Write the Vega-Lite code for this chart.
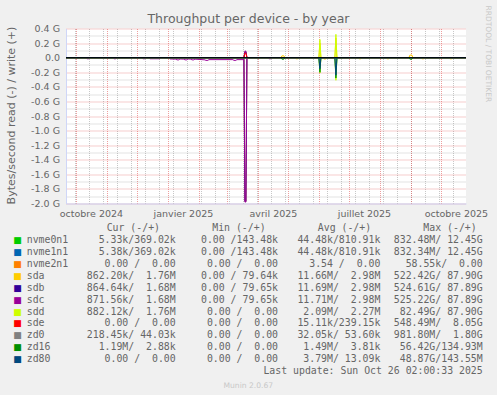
{
  "$schema": "https://vega.github.io/schema/vega-lite/v6.json",
  "autosize": "none",
  "padding": {"left": 66, "top": 28.5, "right": 31, "bottom": 191.5},
  "width": 400,
  "height": 175,
  "background": "#f0f0f0",
  "config": {"view": {"stroke": null, "fill": "white"}},
  "layer": [
    {
      "data": {
        "format": {"parse": {"t": "date:'%Y-%m-%d'"}},
        "values": [
          {"dev":"nvme0n1","dir":"r","t":"2024-09-21","v":0},{"dev":"nvme0n1","dir":"r","t":"2025-10-26","v":0},
          {"dev":"nvme0n1","dir":"w","t":"2024-09-21","v":0},{"dev":"nvme0n1","dir":"w","t":"2025-10-26","v":0},
          {"dev":"nvme1n1","dir":"r","t":"2024-09-21","v":0},{"dev":"nvme1n1","dir":"r","t":"2025-10-26","v":0},
          {"dev":"nvme1n1","dir":"w","t":"2024-09-21","v":0},{"dev":"nvme1n1","dir":"w","t":"2025-10-26","v":0},
          {"dev":"nvme2n1","dir":"r","t":"2024-09-21","v":0},{"dev":"nvme2n1","dir":"r","t":"2025-10-26","v":0},
          {"dev":"nvme2n1","dir":"w","t":"2024-09-21","v":0},{"dev":"nvme2n1","dir":"w","t":"2025-10-26","v":0},
          {"dev":"sda","dir":"r","t":"2024-09-21","v":0},{"dev":"sda","dir":"r","t":"2025-03-18","v":0},{"dev":"sda","dir":"r","t":"2025-03-19","v":-1.97},{"dev":"sda","dir":"r","t":"2025-03-20","v":-1.97},{"dev":"sda","dir":"r","t":"2025-03-21","v":0},
          {"dev":"sda","dir":"r","t":"2025-05-08","v":0},{"dev":"sda","dir":"r","t":"2025-05-09","v":-0.015},{"dev":"sda","dir":"r","t":"2025-05-11","v":-0.015},{"dev":"sda","dir":"r","t":"2025-05-12","v":0},
          {"dev":"sda","dir":"r","t":"2025-06-05","v":0},{"dev":"sda","dir":"r","t":"2025-06-06","v":-0.018},{"dev":"sda","dir":"r","t":"2025-06-08","v":-0.018},{"dev":"sda","dir":"r","t":"2025-06-09","v":0},
          {"dev":"sda","dir":"r","t":"2025-07-10","v":0},{"dev":"sda","dir":"r","t":"2025-07-11","v":-0.015},{"dev":"sda","dir":"r","t":"2025-07-13","v":-0.015},{"dev":"sda","dir":"r","t":"2025-07-14","v":0},
          {"dev":"sda","dir":"r","t":"2025-08-07","v":0},{"dev":"sda","dir":"r","t":"2025-08-08","v":-0.015},{"dev":"sda","dir":"r","t":"2025-08-10","v":-0.015},{"dev":"sda","dir":"r","t":"2025-08-11","v":0},
          {"dev":"sda","dir":"r","t":"2025-09-11","v":0},{"dev":"sda","dir":"r","t":"2025-09-12","v":-0.015},{"dev":"sda","dir":"r","t":"2025-09-14","v":-0.015},{"dev":"sda","dir":"r","t":"2025-09-15","v":0},
          {"dev":"sda","dir":"r","t":"2025-10-09","v":0},{"dev":"sda","dir":"r","t":"2025-10-10","v":-0.015},{"dev":"sda","dir":"r","t":"2025-10-12","v":-0.015},{"dev":"sda","dir":"r","t":"2025-10-13","v":0},
          {"dev":"sda","dir":"r","t":"2025-10-26","v":0},
          {"dev":"sda","dir":"w","t":"2024-09-21","v":0},{"dev":"sda","dir":"w","t":"2025-03-18","v":0},{"dev":"sda","dir":"w","t":"2025-03-19","v":0.08},{"dev":"sda","dir":"w","t":"2025-03-20","v":0.08},{"dev":"sda","dir":"w","t":"2025-03-21","v":0},
          {"dev":"sda","dir":"w","t":"2025-04-24","v":0},{"dev":"sda","dir":"w","t":"2025-04-25","v":0.025},{"dev":"sda","dir":"w","t":"2025-04-27","v":0.025},{"dev":"sda","dir":"w","t":"2025-04-28","v":0},
          {"dev":"sda","dir":"w","t":"2025-06-01","v":0},{"dev":"sda","dir":"w","t":"2025-06-02","v":0.2},{"dev":"sda","dir":"w","t":"2025-06-03","v":0},
          {"dev":"sda","dir":"w","t":"2025-06-17","v":0},{"dev":"sda","dir":"w","t":"2025-06-18","v":0.27},{"dev":"sda","dir":"w","t":"2025-06-19","v":0},
          {"dev":"sda","dir":"w","t":"2025-08-30","v":0},{"dev":"sda","dir":"w","t":"2025-08-31","v":0.035},{"dev":"sda","dir":"w","t":"2025-09-02","v":0.035},{"dev":"sda","dir":"w","t":"2025-09-03","v":0},
          {"dev":"sda","dir":"w","t":"2025-10-26","v":0},
          {"dev":"sdb","dir":"r","t":"2024-09-21","v":0},{"dev":"sdb","dir":"r","t":"2025-03-18","v":0},{"dev":"sdb","dir":"r","t":"2025-03-19","v":-1.97},{"dev":"sdb","dir":"r","t":"2025-03-20","v":-1.97},{"dev":"sdb","dir":"r","t":"2025-03-21","v":0},{"dev":"sdb","dir":"r","t":"2025-10-26","v":0},
          {"dev":"sdb","dir":"w","t":"2024-09-21","v":0},{"dev":"sdb","dir":"w","t":"2025-03-18","v":0},{"dev":"sdb","dir":"w","t":"2025-03-19","v":0.08},{"dev":"sdb","dir":"w","t":"2025-03-20","v":0.08},{"dev":"sdb","dir":"w","t":"2025-03-21","v":0},{"dev":"sdb","dir":"w","t":"2025-10-26","v":0},
          {"dev":"sdc","dir":"r","t":"2024-09-21","v":0},
          {"dev":"sdc","dir":"r","t":"2024-10-11","v":0},{"dev":"sdc","dir":"r","t":"2024-10-12","v":-0.015},{"dev":"sdc","dir":"r","t":"2024-10-14","v":-0.015},{"dev":"sdc","dir":"r","t":"2024-10-15","v":0},
          {"dev":"sdc","dir":"r","t":"2024-11-07","v":0},{"dev":"sdc","dir":"r","t":"2024-11-08","v":-0.015},{"dev":"sdc","dir":"r","t":"2024-11-10","v":-0.015},{"dev":"sdc","dir":"r","t":"2024-11-11","v":0},
          {"dev":"sdc","dir":"r","t":"2024-12-06","v":0},{"dev":"sdc","dir":"r","t":"2024-12-07","v":-0.015},{"dev":"sdc","dir":"r","t":"2024-12-09","v":-0.015},{"dev":"sdc","dir":"r","t":"2024-12-10","v":0},
          {"dev":"sdc","dir":"r","t":"2024-12-13","v":0},{"dev":"sdc","dir":"r","t":"2024-12-14","v":-0.015},{"dev":"sdc","dir":"r","t":"2024-12-24","v":-0.015},{"dev":"sdc","dir":"r","t":"2024-12-25","v":0},
          {"dev":"sdc","dir":"r","t":"2025-01-02","v":0},{"dev":"sdc","dir":"r","t":"2025-01-03","v":-0.018},{"dev":"sdc","dir":"r","t":"2025-01-09","v":-0.02},{"dev":"sdc","dir":"r","t":"2025-01-10","v":-0.03},{"dev":"sdc","dir":"r","t":"2025-01-12","v":-0.03},{"dev":"sdc","dir":"r","t":"2025-01-13","v":-0.018},
          {"dev":"sdc","dir":"r","t":"2025-01-17","v":-0.02},{"dev":"sdc","dir":"r","t":"2025-01-18","v":-0.03},{"dev":"sdc","dir":"r","t":"2025-01-20","v":-0.03},{"dev":"sdc","dir":"r","t":"2025-01-21","v":-0.018},
          {"dev":"sdc","dir":"r","t":"2025-01-24","v":-0.02},{"dev":"sdc","dir":"r","t":"2025-01-25","v":-0.03},{"dev":"sdc","dir":"r","t":"2025-01-27","v":-0.03},{"dev":"sdc","dir":"r","t":"2025-01-28","v":-0.02},
          {"dev":"sdc","dir":"r","t":"2025-02-02","v":-0.025},{"dev":"sdc","dir":"r","t":"2025-02-07","v":-0.03},{"dev":"sdc","dir":"r","t":"2025-02-08","v":-0.037},{"dev":"sdc","dir":"r","t":"2025-02-10","v":-0.037},{"dev":"sdc","dir":"r","t":"2025-02-11","v":-0.027},
          {"dev":"sdc","dir":"r","t":"2025-03-07","v":-0.027},{"dev":"sdc","dir":"r","t":"2025-03-08","v":-0.037},{"dev":"sdc","dir":"r","t":"2025-03-10","v":-0.037},{"dev":"sdc","dir":"r","t":"2025-03-11","v":-0.027},
          {"dev":"sdc","dir":"r","t":"2025-03-18","v":-0.027},{"dev":"sdc","dir":"r","t":"2025-03-19","v":-1.98},{"dev":"sdc","dir":"r","t":"2025-03-20","v":-1.98},{"dev":"sdc","dir":"r","t":"2025-03-21","v":0},
          {"dev":"sdc","dir":"r","t":"2025-04-11","v":0},{"dev":"sdc","dir":"r","t":"2025-04-12","v":-0.015},{"dev":"sdc","dir":"r","t":"2025-04-14","v":-0.015},{"dev":"sdc","dir":"r","t":"2025-04-15","v":0},
          {"dev":"sdc","dir":"r","t":"2025-10-26","v":0},
          {"dev":"sdc","dir":"w","t":"2024-09-21","v":0},{"dev":"sdc","dir":"w","t":"2025-03-18","v":0},{"dev":"sdc","dir":"w","t":"2025-03-19","v":0.09},{"dev":"sdc","dir":"w","t":"2025-03-20","v":0.09},{"dev":"sdc","dir":"w","t":"2025-03-21","v":0},{"dev":"sdc","dir":"w","t":"2025-10-26","v":0},
          {"dev":"sdd","dir":"r","t":"2024-09-21","v":0},{"dev":"sdd","dir":"r","t":"2025-06-01","v":0},{"dev":"sdd","dir":"r","t":"2025-06-02","v":-0.21},{"dev":"sdd","dir":"r","t":"2025-06-03","v":0},
          {"dev":"sdd","dir":"r","t":"2025-06-17","v":0},{"dev":"sdd","dir":"r","t":"2025-06-18","v":-0.31},{"dev":"sdd","dir":"r","t":"2025-06-19","v":0},{"dev":"sdd","dir":"r","t":"2025-10-26","v":0},
          {"dev":"sdd","dir":"w","t":"2024-09-21","v":0},{"dev":"sdd","dir":"w","t":"2025-06-01","v":0},{"dev":"sdd","dir":"w","t":"2025-06-02","v":0.25},{"dev":"sdd","dir":"w","t":"2025-06-03","v":0},
          {"dev":"sdd","dir":"w","t":"2025-06-17","v":0},{"dev":"sdd","dir":"w","t":"2025-06-18","v":0.32},{"dev":"sdd","dir":"w","t":"2025-06-19","v":0},{"dev":"sdd","dir":"w","t":"2025-10-26","v":0},
          {"dev":"sde","dir":"r","t":"2024-09-21","v":0},{"dev":"sde","dir":"r","t":"2025-10-26","v":0},
          {"dev":"sde","dir":"w","t":"2024-09-21","v":0},{"dev":"sde","dir":"w","t":"2025-03-18","v":0},{"dev":"sde","dir":"w","t":"2025-03-19","v":0.06},{"dev":"sde","dir":"w","t":"2025-03-20","v":0.06},{"dev":"sde","dir":"w","t":"2025-03-21","v":0},{"dev":"sde","dir":"w","t":"2025-10-26","v":0},
          {"dev":"zd0","dir":"r","t":"2024-09-21","v":0},{"dev":"zd0","dir":"r","t":"2025-10-26","v":0},
          {"dev":"zd0","dir":"w","t":"2024-09-21","v":0},{"dev":"zd0","dir":"w","t":"2025-10-26","v":0},
          {"dev":"zd16","dir":"r","t":"2024-09-21","v":0},{"dev":"zd16","dir":"r","t":"2025-04-24","v":0},{"dev":"zd16","dir":"r","t":"2025-04-25","v":-0.02},{"dev":"zd16","dir":"r","t":"2025-04-27","v":-0.02},{"dev":"zd16","dir":"r","t":"2025-04-28","v":0},
          {"dev":"zd16","dir":"r","t":"2025-06-01","v":0},{"dev":"zd16","dir":"r","t":"2025-06-02","v":-0.2},{"dev":"zd16","dir":"r","t":"2025-06-03","v":0},
          {"dev":"zd16","dir":"r","t":"2025-06-17","v":0},{"dev":"zd16","dir":"r","t":"2025-06-18","v":-0.28},{"dev":"zd16","dir":"r","t":"2025-06-19","v":0},
          {"dev":"zd16","dir":"r","t":"2025-08-30","v":0},{"dev":"zd16","dir":"r","t":"2025-08-31","v":-0.02},{"dev":"zd16","dir":"r","t":"2025-09-02","v":-0.02},{"dev":"zd16","dir":"r","t":"2025-09-03","v":0},{"dev":"zd16","dir":"r","t":"2025-10-26","v":0},
          {"dev":"zd16","dir":"w","t":"2024-09-21","v":0},{"dev":"zd16","dir":"w","t":"2025-10-26","v":0},
          {"dev":"zd80","dir":"r","t":"2024-09-21","v":0},{"dev":"zd80","dir":"r","t":"2025-06-01","v":0},{"dev":"zd80","dir":"r","t":"2025-06-02","v":-0.15},{"dev":"zd80","dir":"r","t":"2025-06-03","v":0},
          {"dev":"zd80","dir":"r","t":"2025-06-17","v":0},{"dev":"zd80","dir":"r","t":"2025-06-18","v":-0.24},{"dev":"zd80","dir":"r","t":"2025-06-19","v":0},{"dev":"zd80","dir":"r","t":"2025-10-26","v":0},
          {"dev":"zd80","dir":"w","t":"2024-09-21","v":0},{"dev":"zd80","dir":"w","t":"2025-10-26","v":0}
        ]
      },
      "layer": [
        {
          "mark": {"type": "point", "opacity": 0},
          "encoding": {
            "x": {"field": "t", "type": "temporal",
              "scale": {"domain": [{"year":2024,"month":9,"date":21,"hours":2},{"year":2025,"month":10,"date":26,"hours":2}], "nice": false},
              "axis": {"orient": "bottom", "title": null, "labels": false, "ticks": false, "domain": false, "grid": true,
                "gridColor": "#8f8f8f", "gridOpacity": 0.5, "gridDash": [1, 1],
                "values": [
                  {"year":2024,"month":9,"date":30},{"year":2024,"month":10,"date":14},{"year":2024,"month":10,"date":28},
                  {"year":2024,"month":11,"date":11},{"year":2024,"month":11,"date":25},{"year":2024,"month":12,"date":9},
                  {"year":2024,"month":12,"date":23},{"year":2025,"month":1,"date":6},{"year":2025,"month":1,"date":20},
                  {"year":2025,"month":2,"date":3},{"year":2025,"month":2,"date":17},{"year":2025,"month":3,"date":3},
                  {"year":2025,"month":3,"date":17},{"year":2025,"month":3,"date":31},{"year":2025,"month":4,"date":14},
                  {"year":2025,"month":4,"date":28},{"year":2025,"month":5,"date":12},{"year":2025,"month":5,"date":26},
                  {"year":2025,"month":6,"date":9},{"year":2025,"month":6,"date":23},{"year":2025,"month":7,"date":7},
                  {"year":2025,"month":7,"date":21},{"year":2025,"month":8,"date":4},{"year":2025,"month":8,"date":18},
                  {"year":2025,"month":9,"date":1},{"year":2025,"month":9,"date":15},{"year":2025,"month":9,"date":29},
                  {"year":2025,"month":10,"date":13}
                ]}},
            "y": {"field": "v", "type": "quantitative",
              "scale": {"domain": [-2.0, 0.4], "nice": false, "zero": false},
              "axis": {"orient": "left", "title": null, "labels": false, "ticks": false, "domain": false, "grid": true,
                "gridColor": "#8f8f8f", "gridOpacity": 0.5, "gridDash": [1, 1],
                "values": [-1.9, -1.7, -1.5, -1.3, -1.1, -0.9, -0.7, -0.5, -0.3, -0.1, 0.1, 0.3]}}
          }
        },
        {
          "mark": {"type": "point", "opacity": 0},
          "encoding": {
            "x": {"field": "t", "type": "temporal",
              "scale": {"domain": [{"year":2024,"month":9,"date":21,"hours":2},{"year":2025,"month":10,"date":26,"hours":2}], "nice": false},
              "axis": {"orient": "top", "labels": false, "ticks": false, "domain": false, "grid": true,
                "gridColor": "#e04f4f", "gridOpacity": 0.55, "gridDash": [1, 1],
                "values": [
                  {"year":2024,"month":10,"date":1},{"year":2024,"month":11,"date":1},{"year":2024,"month":12,"date":1},
                  {"year":2025,"month":1,"date":1},{"year":2025,"month":2,"date":1},{"year":2025,"month":3,"date":1},
                  {"year":2025,"month":4,"date":1},{"year":2025,"month":5,"date":1},{"year":2025,"month":6,"date":1},
                  {"year":2025,"month":7,"date":1},{"year":2025,"month":8,"date":1},{"year":2025,"month":9,"date":1},
                  {"year":2025,"month":10,"date":1}
                ],
                "title": "Throughput per device - by year",
                "titleX": 182, "titleY": -6.1, "titleAlign": "center", "titleBaseline": "alphabetic", "titleAngle": 0,
                "titleFont": "DejaVu Sans", "titleFontSize": 12.5, "titleFontWeight": "normal", "titleColor": "#666666"}},
            "y": {"field": "v", "type": "quantitative",
              "scale": {"domain": [-2.0, 0.4], "nice": false, "zero": false},
              "axis": {"orient": "left", "ticks": false, "domain": true, "domainColor": "#cfd6f8", "grid": true,
                "gridColor": "#e04f4f", "gridOpacity": 0.55, "gridDash": [1, 1],
                "values": [-2.0, -1.8, -1.6, -1.4, -1.2, -1.0, -0.8, -0.6, -0.4, -0.2, 0, 0.2, 0.4],
                "labelExpr": "abs(datum.value) < 1e-9 ? '0.0\u2002' : (datum.value < 0 ? '-' : '') + format(abs(datum.value), '.1f') + ' G'",
                "labelFont": "DejaVu Sans", "labelFontSize": 9.5, "labelColor": "#666666", "labelPadding": 6.5,
                "labelBaseline": "middle", "labelFlush": false, "labelOverlap": false,
                "title": "Bytes/second read (-) / write (+)",
                "titleX": -51.3, "titleY": 86.5, "titleAngle": -90, "titleAlign": "center", "titleBaseline": "alphabetic",
                "titleFont": "DejaVu Sans", "titleFontSize": 11, "titleFontWeight": "normal", "titleColor": "#666666"}}
          }
        },
        {
          "mark": {"type": "point", "opacity": 0},
          "encoding": {
            "x": {"field": "t", "type": "temporal",
              "scale": {"domain": [{"year":2024,"month":9,"date":21,"hours":2},{"year":2025,"month":10,"date":26,"hours":2}], "nice": false},
              "axis": {"orient": "bottom", "grid": false, "ticks": false, "tickSize": 0, "domain": true, "domainColor": "#cfd6f8",
                "values": [
                  {"year":2024,"month":10,"date":16},{"year":2025,"month":1,"date":16},{"year":2025,"month":4,"date":16},
                  {"year":2025,"month":7,"date":16},{"year":2025,"month":10,"date":16}
                ],
                "labelExpr": "['janvier','février','mars','avril','mai','juin','juillet','août','septembre','octobre','novembre','décembre'][month(datum.value)] + ' ' + year(datum.value)",
                "labelFont": "DejaVu Sans", "labelFontSize": 9.5, "labelColor": "#666666", "labelPadding": 12.5,
                "labelBaseline": "alphabetic", "labelAlign": "center", "labelFlush": false, "labelOverlap": false, "labelBound": false,
                "title": "Munin 2.0.67",
                "titleX": 181.8, "titleY": 183.5, "titleAlign": "center", "titleBaseline": "alphabetic",
                "titleFont": "DejaVu Sans", "titleFontSize": 7.6, "titleFontWeight": "normal", "titleColor": "#c8c8c8"}},
            "y": {"field": "v", "type": "quantitative",
              "scale": {"domain": [-2.0, 0.4], "nice": false, "zero": false},
              "axis": {"orient": "right", "grid": false, "labels": false, "ticks": false, "domain": false,
                "title": "RRDTOOL / TOBI OETIKER",
                "titleX": 19.5, "titleY": 24.8, "titleAngle": 90, "titleAlign": "center", "titleBaseline": "alphabetic",
                "titleFont": "DejaVu Sans", "titleFontSize": 7.5, "titleFontWeight": "normal", "titleColor": "#c8c8c8"}}
          }
        },
        {
          "mark": {"type": "line", "strokeWidth": 1, "clip": true},
          "encoding": {
            "x": {"field": "t", "type": "temporal",
              "scale": {"domain": [{"year":2024,"month":9,"date":21,"hours":2},{"year":2025,"month":10,"date":26,"hours":2}], "nice": false},
              "axis": null},
            "y": {"field": "v", "type": "quantitative",
              "scale": {"domain": [-2.0, 0.4], "nice": false, "zero": false}, "axis": null},
            "color": {"field": "dev", "type": "nominal", "legend": null,
              "scale": {"domain": ["nvme0n1","nvme1n1","nvme2n1","sda","sdb","sdc","sdd","sde","zd0","zd16","zd80"],
                        "range": ["#00cc00","#0066b3","#ff8000","#ffcc00","#330099","#990099","#ccff00","#ff0000","#808080","#008f00","#00487d"]}},
            "detail": {"field": "dir", "type": "nominal"}
          }
        },
        {
          "data": {"values": [{"z": 0}]},
          "mark": {"type": "rule", "color": "#000000", "strokeWidth": 1},
          "encoding": {
            "y": {"field": "z", "type": "quantitative",
              "scale": {"domain": [-2.0, 0.4], "nice": false, "zero": false}, "axis": null}
          }
        }
      ],
      "resolve": {"axis": {"x": "independent", "y": "independent"}}
    },
    {
      "data": {"values": [
        {"dev":"nvme0n1","cur":"\u00a0\u00a05.33k/369.02k","min":"\u00a0\u00a00.00\u00a0/143.48k","avg":"\u00a044.48k/810.91k","max":"832.48M/\u00a012.45G"},
        {"dev":"nvme1n1","cur":"\u00a0\u00a05.38k/369.02k","min":"\u00a0\u00a00.00\u00a0/143.48k","avg":"\u00a044.48k/810.91k","max":"832.34M/\u00a012.45G"},
        {"dev":"nvme2n1","cur":"\u00a0\u00a00.00\u00a0/\u00a0\u00a00.00\u00a0","min":"\u00a0\u00a00.00\u00a0/\u00a0\u00a00.00\u00a0","avg":"\u00a0\u00a03.54\u00a0/\u00a0\u00a00.00\u00a0","max":"\u00a058.55k/\u00a0\u00a00.00\u00a0"},
        {"dev":"sda","cur":"862.20k/\u00a0\u00a01.76M","min":"\u00a0\u00a00.00\u00a0/\u00a079.64k","avg":"\u00a011.66M/\u00a0\u00a02.98M","max":"522.42G/\u00a087.90G"},
        {"dev":"sdb","cur":"864.64k/\u00a0\u00a01.68M","min":"\u00a0\u00a00.00\u00a0/\u00a079.65k","avg":"\u00a011.69M/\u00a0\u00a02.98M","max":"524.61G/\u00a087.89G"},
        {"dev":"sdc","cur":"871.56k/\u00a0\u00a01.68M","min":"\u00a0\u00a00.00\u00a0/\u00a079.65k","avg":"\u00a011.71M/\u00a0\u00a02.98M","max":"525.22G/\u00a087.89G"},
        {"dev":"sdd","cur":"882.12k/\u00a0\u00a01.76M","min":"\u00a0\u00a00.00\u00a0/\u00a0\u00a00.00\u00a0","avg":"\u00a0\u00a02.09M/\u00a0\u00a02.27M","max":"\u00a082.49G/\u00a087.90G"},
        {"dev":"sde","cur":"\u00a0\u00a00.00\u00a0/\u00a0\u00a00.00\u00a0","min":"\u00a0\u00a00.00\u00a0/\u00a0\u00a00.00\u00a0","avg":"\u00a015.11k/239.15k","max":"548.49M/\u00a0\u00a08.05G"},
        {"dev":"zd0","cur":"218.45k/\u00a044.03k","min":"\u00a0\u00a00.00\u00a0/\u00a0\u00a00.00\u00a0","avg":"\u00a032.05k/\u00a053.60k","max":"981.80M/\u00a0\u00a01.80G"},
        {"dev":"zd16","cur":"\u00a0\u00a01.19M/\u00a0\u00a02.88k","min":"\u00a0\u00a00.00\u00a0/\u00a0\u00a00.00\u00a0","avg":"\u00a0\u00a01.49M/\u00a0\u00a03.81k","max":"\u00a056.42G/134.93M"},
        {"dev":"zd80","cur":"\u00a0\u00a00.00\u00a0/\u00a0\u00a00.00\u00a0","min":"\u00a0\u00a00.00\u00a0/\u00a0\u00a00.00\u00a0","avg":"\u00a0\u00a03.79M/\u00a013.09k","max":"\u00a048.87G/143.55M"}
      ]},
      "layer": [
        {
          "mark": {"type": "text", "text": "■", "align": "left", "baseline": "middle", "dx": -162.5, "font": "DejaVu Sans", "fontSize": 9},
          "encoding": {
            "x": {"datum": "cur", "type": "nominal", "axis": null,
              "scale": {"type": "point", "domain": ["cur","min","avg","max"], "range": [109.7, 416.7], "padding": 0}},
            "y": {"field": "dev", "type": "nominal", "axis": null,
              "scale": {"type": "point", "domain": ["hdr","nvme0n1","nvme1n1","nvme2n1","sda","sdb","sdc","sdd","sde","zd0","zd16","zd80","upd"], "range": [199.8, 342.5], "padding": 0}},
            "color": {"field": "dev", "type": "nominal", "legend": null,
              "scale": {"domain": ["nvme0n1","nvme1n1","nvme2n1","sda","sdb","sdc","sdd","sde","zd0","zd16","zd80"],
                        "range": ["#00cc00","#0066b3","#ff8000","#ffcc00","#330099","#990099","#ccff00","#ff0000","#808080","#008f00","#00487d"]}}
          }
        },
        {
          "mark": {"type": "text", "align": "left", "baseline": "middle", "dx": -149, "font": "DejaVu Sans Mono", "fontSize": 9.85, "color": "#666666"},
          "encoding": {
            "x": {"datum": "cur", "type": "nominal", "axis": null},
            "y": {"field": "dev", "type": "nominal", "axis": null},
            "text": {"field": "dev"}
          }
        },
        {
          "transform": [{"fold": ["cur", "min", "avg", "max"], "as": ["col", "txt"]}],
          "mark": {"type": "text", "align": "right", "baseline": "middle", "font": "DejaVu Sans Mono", "fontSize": 9.85, "color": "#666666"},
          "encoding": {
            "x": {"field": "col", "type": "nominal", "axis": null},
            "y": {"field": "dev", "type": "nominal", "axis": null},
            "text": {"field": "txt"}
          }
        },
        {
          "data": {"values": [{"txt": "Last update: Sun Oct 26 02:00:33 2025"}]},
          "mark": {"type": "text", "align": "right", "baseline": "middle", "font": "DejaVu Sans Mono", "fontSize": 9.85, "color": "#666666"},
          "encoding": {
            "x": {"datum": "max", "type": "nominal", "axis": null},
            "y": {"datum": "upd", "type": "nominal", "axis": null},
            "text": {"field": "txt"}
          }
        }
      ]
    },
    {
      "data": {"values": [
        {"col": "cur", "h": "Cur (-/+)"}, {"col": "min", "h": "Min (-/+)"},
        {"col": "avg", "h": "Avg (-/+)"}, {"col": "max", "h": "Max (-/+)"}
      ]},
      "mark": {"type": "text", "align": "right", "baseline": "middle", "font": "DejaVu Sans Mono", "fontSize": 9.85, "color": "#666666"},
      "encoding": {
        "x": {"field": "col", "type": "nominal", "axis": null,
          "scale": {"type": "point", "domain": ["cur","min","avg","max"], "range": [94, 410.7], "padding": 0}},
        "y": {"datum": "hdr", "type": "nominal", "axis": null,
          "scale": {"type": "point", "domain": ["hdr","nvme0n1","nvme1n1","nvme2n1","sda","sdb","sdc","sdd","sde","zd0","zd16","zd80","upd"], "range": [199.8, 342.5], "padding": 0}},
        "text": {"field": "h"}
      }
    }
  ],
  "resolve": {"scale": {"x": "independent", "y": "independent"}}
}
